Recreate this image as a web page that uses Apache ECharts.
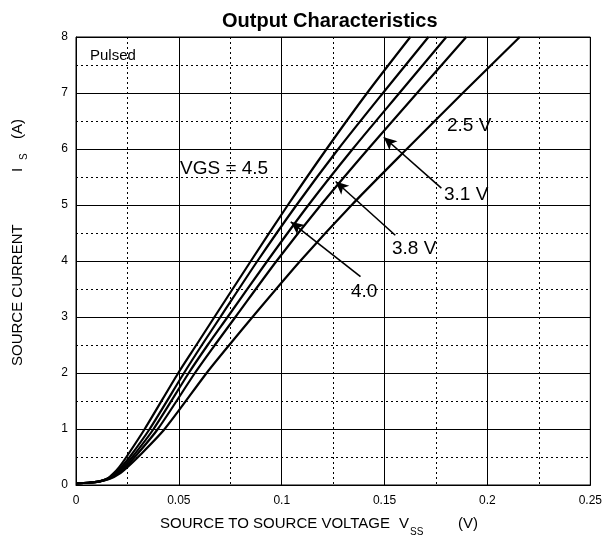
<!DOCTYPE html>
<html>
<head>
<meta charset="utf-8">
<script src="https://cdn.jsdelivr.net/npm/echarts@6/dist/echarts.min.js"></script>
<style>
html,body{margin:0;padding:0;background:#fff;}
#c{width:605px;height:541px;}
</style>
</head>
<body>
<div id="c"></div>
<script>
// ---- data ----
const xTicks = [0, 0.05, 0.1, 0.15, 0.2, 0.25];
const yTicks = [0, 1, 2, 3, 4, 5, 6, 7, 8];

const curveY = [0.03, 0.04, 0.06, 0.11, 0.2, 0.32, 0.5, 1, 2, 2.5, 3, 4, 5, 6, 7, 8];
const vgs45X = [0, 0.006, 0.011, 0.015, 0.018, 0.021, 0.0245, 0.0334, 0.0497, 0.0585, 0.0673, 0.0850, 0.1030, 0.1218, 0.1415, 0.1625];
const vgs40X = [0, 0.006, 0.011, 0.0152, 0.0188, 0.022, 0.0261, 0.0358, 0.0525, 0.0612, 0.0702, 0.0882, 0.1072, 0.1275, 0.1492, 0.1713];
const vgs38X = [0, 0.006, 0.011, 0.0155, 0.0195, 0.023, 0.0274, 0.0377, 0.0548, 0.0640, 0.0737, 0.0930, 0.1130, 0.1345, 0.1572, 0.1800];
const vgs31X = [0, 0.006, 0.011, 0.016, 0.020, 0.024, 0.0286, 0.0398, 0.0578, 0.0675, 0.0775, 0.0975, 0.1190, 0.1420, 0.1658, 0.1897];
const vgs25X = [0, 0.006, 0.011, 0.0165, 0.021, 0.025, 0.0302, 0.0431, 0.0635, 0.0745, 0.0858, 0.1090, 0.1340, 0.1608, 0.1880, 0.2157];
const seriesNames = ['VGS = 4.5', '4.0', '3.8 V', '3.1 V', '2.5 V'];

// annotation arrows (data coordinates): tail -> tip
const arrowTails = [[0.1776, 5.30], [0.1552, 4.46], [0.1383, 3.72]];
const arrowTips  = [[0.1496, 6.21], [0.1262, 5.42], [0.1044, 4.70]];

function pairs(xs, ys){ return xs.map((x,i)=>[x, ys[i]]); }

const chart = echarts.init(document.getElementById('c'), null, {renderer:'canvas'});
const FONT = 'Liberation Sans, Arial, sans-serif';
const dotted = [2, 3];

const allX = [vgs45X, vgs40X, vgs38X, vgs31X, vgs25X];
const series = allX.map((xs, i) => ({
  name: seriesNames[i],
  type: 'line',
  data: pairs(xs, curveY),
  showSymbol: false,
  smooth: 0.25,
  lineStyle: {color: '#000', width: 2.2},
  itemStyle: {color: '#000'},
  clip: true,
  z: 5
}));
series[0].markLine = {
  silent: true,
  symbol: ['none', 'arrow'],
  symbolSize: [9, 13],
  label: {show: false},
  lineStyle: {color: '#000', width: 1.6, type: 'solid'},
  data: arrowTails.map((t, i) => [{coord: t}, {coord: arrowTips[i]}])
};

function txt(text, x, y, size, opts){
  return Object.assign({
    type: 'text', x: x, y: y, z: 10,
    style: Object.assign({text: text, fill: '#000', font: size + 'px ' + FONT, textVerticalAlign: 'middle', textAlign: 'left'}, opts || {})
  });
}

const option = {
  animation: false,
  backgroundColor: '#fff',
  title: {
    text: 'Output Characteristics',
    left: 217, top: 6,
    textStyle: {fontFamily: FONT, fontSize: 20, fontWeight: 'bold', color: '#000'}
  },
  grid: {left: 76, right: 12, top: 37, bottom: 56, show: true, borderColor: '#000', borderWidth: 1, backgroundColor: 'transparent'},
  xAxis: {
    type: 'value', min: xTicks[0], max: xTicks[xTicks.length-1], interval: 0.05,
    axisLine: {show: true, lineStyle: {color: '#000', width: 1}},
    axisTick: {show: false},
    axisLabel: {color: '#000', fontFamily: FONT, fontSize: 12, margin: 10,
      formatter: v => String(parseFloat(v.toFixed(3)))},
    splitLine: {show: true, lineStyle: {color: '#000', width: 1}},
    minorTick: {show: false, splitNumber: 2},
    minorSplitLine: {show: true, lineStyle: {color: '#000', width: 1, type: dotted}}
  },
  yAxis: {
    type: 'value', min: yTicks[0], max: yTicks[yTicks.length-1], interval: 1,
    axisLine: {show: true, lineStyle: {color: '#000', width: 1}},
    axisTick: {show: false},
    axisLabel: {color: '#000', fontFamily: FONT, fontSize: 12, margin: 8},
    splitLine: {show: true, lineStyle: {color: '#000', width: 1}},
    minorTick: {show: false, splitNumber: 2},
    minorSplitLine: {show: true, lineStyle: {color: '#000', width: 1, type: dotted}}
  },
  graphic: [
    txt('Pulsed', 90, 56, 15),
    txt('VGS = 4.5', 180, 168.5, 19),
    txt('2.5 V', 447, 126, 19),
    txt('3.1 V', 444, 195, 19),
    txt('3.8 V', 392, 248.5, 19),
    txt('4.0', 351, 291.5, 19),
    txt('SOURCE TO SOURCE VOLTAGE', 160, 524, 15),
    txt('V', 399, 524, 15),
    txt('SS', 410, 532, 10),
    txt('(V)', 458, 524, 15),
    Object.assign(txt('SOURCE CURRENT', 17.5, 366, 15), {rotation: Math.PI/2}),
    Object.assign(txt('I', 17.5, 172, 15), {rotation: Math.PI/2}),
    Object.assign(txt('S', 24, 160, 10), {rotation: Math.PI/2}),
    Object.assign(txt('(A)', 17.5, 139, 15), {rotation: Math.PI/2})
  ],
  series: series
};
chart.setOption(option);
</script>
</body>
</html>
